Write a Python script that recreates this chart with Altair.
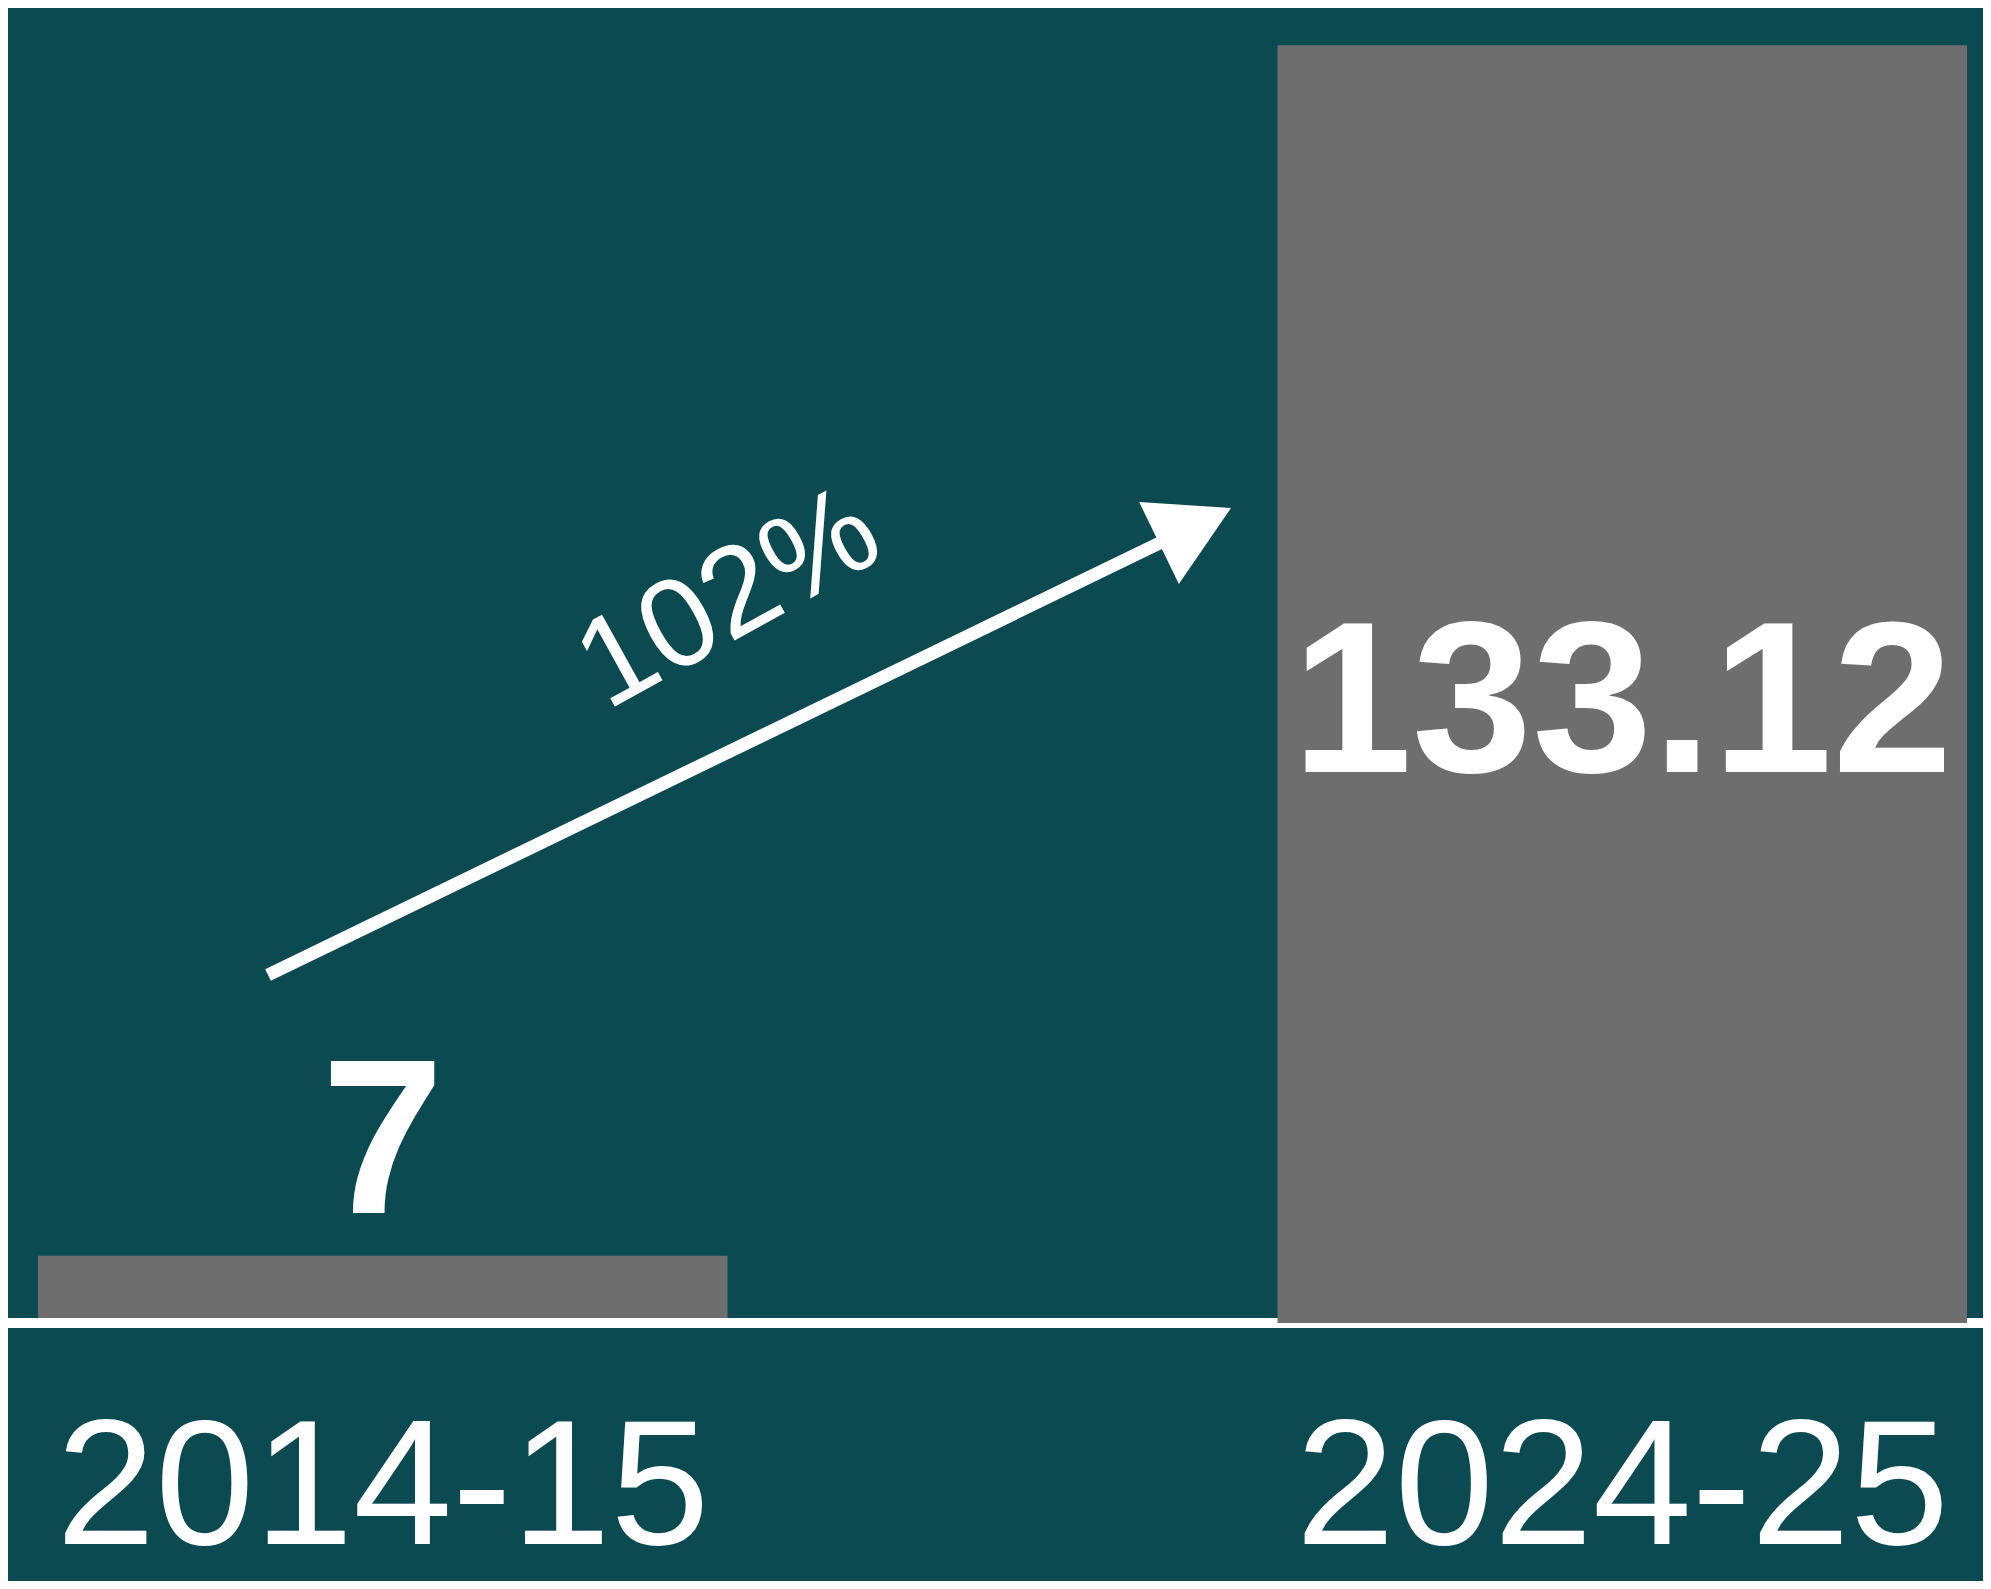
import altair as alt
import pandas as pd

# ---- data ----
categories = ["2014-15", "2024-25"]
values = [7, 133.12]
value_labels = ["7", "133.12"]
growth_label = ["102%"]

df = pd.DataFrame({"period": categories, "value": values, "label": value_labels})
growth_df = pd.DataFrame({"text": growth_label})

BG = "#0b4a50"
BAR = "#6e6e6e"
FONT = "Liberation Sans"

x_enc = alt.X(
    "period:N",
    sort=categories,
    scale=alt.Scale(paddingInner=0.4437, paddingOuter=0.01854, align=0.653),
    axis=alt.Axis(
        title=None, domain=False, ticks=False, tickSize=0, grid=False,
        labelPadding=220, labelFontSize=178, labelFont=FONT,
        labelColor="white", labelBaseline="alphabetic", labelAngle=0,
        labelLimit=0,
    ),
)
y_scale = alt.Scale(domain=[0, 137], nice=False, zero=True)
y_enc = alt.Y("value:Q", scale=y_scale, axis=None)

base = alt.Chart(df)

bar_first = base.transform_filter(alt.datum.period == categories[0]).mark_bar(
    color=BAR
).encode(x=x_enc, y=y_enc)

bar_second = base.transform_filter(alt.datum.period == categories[1]).mark_bar(
    color=BAR
).encode(x=x_enc, y=y_enc)

baseline = (
    alt.Chart(growth_df)
    .transform_calculate(zero="0")
    .mark_rule(color="white", strokeWidth=10)
    .encode(
        y=alt.Y("zero:Q", scale=y_scale, axis=None),
        x=alt.value(0),
        x2=alt.value(1975),
    )
)

label_small = base.transform_filter(alt.datum.period == categories[0]).mark_text(
    font=FONT, fontWeight="bold", fontSize=220, color="white",
    align="center", baseline="alphabetic", dy=-43,
).encode(x=x_enc, y=y_enc, text="label:N")

label_big = (
    base.transform_filter(alt.datum.period == categories[1])
    .transform_calculate(mid="datum.value / 2")
    .mark_text(
        font=FONT, fontWeight="bold", fontSize=216, color="white",
        align="center", baseline="alphabetic", dy=88,
    )
    .encode(x=x_enc, y=alt.Y("mid:Q", scale=y_scale, axis=None), text="label:N")
)

# growth arrow annotation
arrow_shaft = alt.Chart(growth_df).mark_rule(
    color="white", strokeWidth=13, strokeCap="butt"
).encode(
    x=alt.value(260), y=alt.value(967), x2=alt.value(1160), y2=alt.value(531)
)

arrow_head = alt.Chart(growth_df).mark_point(
    shape="M1,0L-1,-1.1375L-1,1.1375Z",
    filled=True, color="white", opacity=1, size=6400, angle=334.13,
    strokeWidth=0,
).encode(x=alt.value(1187), y=alt.value(517.5))

growth_text = alt.Chart(growth_df).mark_text(
    font=FONT, fontSize=126, color="white", angle=331,
    align="center", baseline="middle",
).encode(x=alt.value(721), y=alt.value(592), text="text:N")

chart = (
    alt.layer(
        bar_first, baseline, bar_second, label_small, label_big,
        arrow_shaft, arrow_head, growth_text,
    )
    .properties(
        width=1975,
        height=1315,
        autosize=alt.AutoSizeParams(type="none"),
        padding={"left": 0, "top": 0, "right": 0, "bottom": 258},
        background=BG,
    )
    .configure_view(strokeWidth=0)
)

chart.save("out.html", embed_options={"renderer": "svg", "actions": False})
